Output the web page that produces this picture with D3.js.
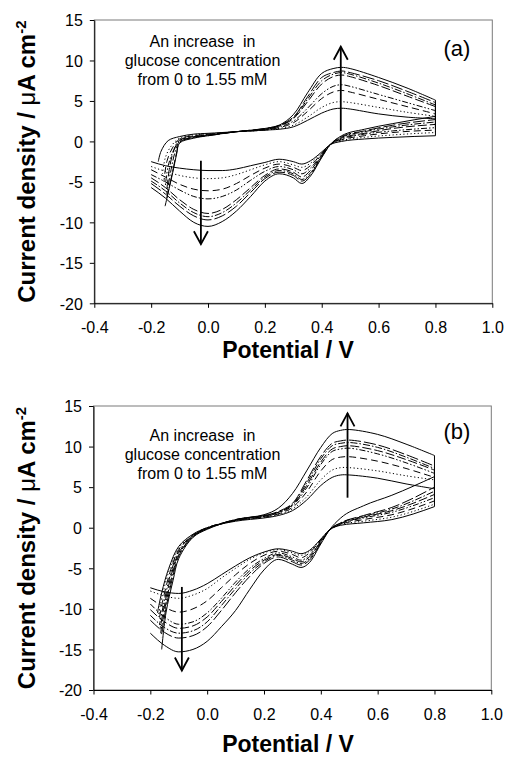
<!DOCTYPE html>
<html><head><meta charset="utf-8">
<script src="https://cdn.jsdelivr.net/npm/d3@7"></script>
<style>
body{margin:0;background:#fff}
svg{display:block}
text{font-family:"Liberation Sans",Arial,sans-serif;fill:#000}
</style>
</head><body>
<svg id="chart" width="505" height="760"></svg>
<script>
// ---------- data ----------
const xTicks = [-0.4, -0.2, 0.0, 0.2, 0.4, 0.6, 0.8, 1.0];
const yTicks = [15, 10, 5, 0, -5, -10, -15, -20];
const annotLines = ["An increase  in", "glucose concentration", "from 0 to 1.55 mM"];

// potentials of the forward (lower) branch and of the return (upper) branch
const lowerX = [-0.2, -0.15, -0.1, -0.05, 0.0, 0.05, 0.1, 0.15, 0.2, 0.25, 0.3, 0.33, 0.36, 0.4, 0.43, 0.47, 0.55, 0.65, 0.8];
const upperX = [0.8, 0.7, 0.6, 0.5, 0.47, 0.44, 0.4, 0.35, 0.3, 0.25, 0.2, 0.1, 0.0, -0.05, -0.1];

// panel (a) — 8 glucose concentrations
const aLower = [
  [-2.5, -3.0, -3.3, -3.5, -3.6, -3.6, -3.4, -3.0, -2.6, -2.2, -2.5, -2.8, -2.4, -1.3, -0.4, 0.0, 0.3, 0.5, 0.7],
  [-3.1, -3.7, -4.2, -4.5, -4.6, -4.5, -4.1, -3.5, -2.9, -2.5, -2.9, -3.2, -2.7, -1.4, -0.4, 0.1, 0.5, 0.8, 1.1],
  [-3.5, -4.4, -5.3, -5.9, -6.1, -5.9, -5.2, -4.2, -3.3, -2.8, -3.2, -3.6, -3.0, -1.5, -0.4, 0.2, 0.7, 1.1, 1.4],
  [-4.1, -5.0, -6.0, -6.8, -7.1, -6.8, -6.0, -4.8, -3.7, -3.1, -3.5, -4.0, -3.3, -1.6, -0.4, 0.3, 0.9, 1.3, 1.7],
  [-4.5, -5.7, -7.2, -8.4, -8.9, -8.4, -7.2, -5.7, -4.2, -3.4, -3.8, -4.4, -3.6, -1.7, -0.4, 0.4, 1.0, 1.6, 2.1],
  [-4.9, -6.1, -7.6, -8.8, -9.3, -8.8, -7.6, -6.0, -4.4, -3.6, -4.0, -4.7, -3.9, -1.8, -0.4, 0.5, 1.2, 1.8, 2.4],
  [-5.2, -6.5, -8.0, -9.2, -9.7, -9.2, -8.0, -6.3, -4.6, -3.8, -4.2, -4.9, -4.1, -1.9, -0.4, 0.6, 1.3, 2.0, 2.7],
  [-5.7, -7.0, -8.6, -10.0, -10.5, -9.9, -8.6, -6.8, -4.9, -4.0, -4.5, -5.2, -4.3, -2.0, -0.4, 0.7, 1.5, 2.2, 3.1]
];
const aUpper = [
  [2.8, 3.0, 3.4, 4.0, 4.1, 4.0, 3.5, 2.6, 1.8, 1.5, 1.4, 1.2, 1.0, 0.9, 0.6],
  [3.1, 3.6, 4.2, 4.8, 4.9, 4.8, 4.2, 3.0, 2.0, 1.6, 1.4, 1.2, 0.9, 0.8, 0.4],
  [3.4, 4.3, 5.2, 6.1, 6.3, 6.1, 5.3, 3.7, 2.3, 1.7, 1.4, 1.2, 0.9, 0.7, 0.3],
  [3.8, 4.8, 5.8, 6.8, 7.0, 6.8, 5.9, 4.1, 2.5, 1.8, 1.5, 1.2, 0.8, 0.6, 0.2],
  [4.3, 5.6, 6.9, 8.0, 8.2, 8.0, 7.1, 4.9, 2.8, 1.9, 1.5, 1.2, 0.8, 0.6, 0.1],
  [4.5, 5.9, 7.2, 8.3, 8.5, 8.3, 7.5, 5.2, 2.9, 1.9, 1.5, 1.2, 0.8, 0.5, 0.0],
  [4.8, 6.2, 7.5, 8.5, 8.7, 8.5, 7.9, 5.5, 3.0, 2.0, 1.6, 1.2, 0.7, 0.5, -0.1],
  [5.1, 6.6, 7.9, 9.0, 9.15, 9.0, 8.4, 6.0, 3.3, 2.0, 1.6, 1.2, 0.7, 0.4, -0.2]
];
const aTail = [
  [[-0.14, 0.1], [-0.165, -1.2], [-0.175, -2.5]],
  [[-0.13, -0.6], [-0.15, -2.0], [-0.16, -4.0]],
  [[-0.125, -0.8], [-0.145, -2.5], [-0.155, -5.0]],
  [[-0.12, -1.0], [-0.14, -3.0], [-0.15, -5.5]],
  [[-0.12, -1.1], [-0.135, -3.2], [-0.145, -6.0]],
  [[-0.115, -1.2], [-0.13, -3.5], [-0.145, -6.5]],
  [[-0.11, -1.3], [-0.125, -3.8], [-0.145, -7.0]],
  [[-0.11, -1.5], [-0.125, -4.0], [-0.151, -8.0]]
];
const aArrowX = [0.467, -0.025];
const aArrowFrom = [1.3, -2.4];
const aArrowTo = [11.7, -12.7];

// panel (b)
const bLower = [
  [-7.4, -7.9, -8.1, -7.7, -6.9, -5.8, -4.7, -3.7, -3.0, -2.6, -2.9, -3.2, -2.8, -1.4, -0.3, 0.3, 0.6, 1.0, 2.6],
  [-7.8, -8.4, -8.7, -8.3, -7.5, -6.2, -5.0, -3.9, -3.1, -2.7, -3.1, -3.4, -2.9, -1.4, -0.3, 0.4, 0.8, 1.3, 2.9],
  [-8.7, -9.8, -10.4, -10.0, -9.0, -7.4, -5.8, -4.4, -3.4, -2.9, -3.3, -3.7, -3.1, -1.5, -0.3, 0.4, 1.0, 1.6, 3.3],
  [-9.4, -11.0, -11.9, -11.6, -10.5, -8.7, -6.7, -5.0, -3.8, -3.1, -3.6, -4.0, -3.4, -1.6, -0.3, 0.5, 1.2, 1.9, 3.7],
  [-10.1, -11.6, -12.4, -12.1, -11.0, -9.1, -7.1, -5.3, -4.0, -3.3, -3.8, -4.2, -3.6, -1.7, -0.3, 0.5, 1.3, 2.1, 4.1],
  [-10.8, -12.3, -13.0, -12.7, -11.6, -9.6, -7.5, -5.6, -4.2, -3.4, -4.0, -4.4, -3.8, -1.8, -0.3, 0.6, 1.4, 2.3, 4.5],
  [-11.4, -12.9, -13.6, -13.3, -12.2, -10.2, -8.0, -6.0, -4.4, -3.6, -4.2, -4.6, -4.0, -1.9, -0.3, 0.6, 1.5, 2.5, 5.0],
  [-13.0, -14.5, -15.3, -15.0, -14.0, -12.2, -10.2, -7.6, -5.2, -3.9, -4.5, -4.9, -4.3, -2.0, -0.3, 1.2, 2.7, 4.0, 6.3]
];
const bUpper = [
  [4.8, 5.4, 6.1, 6.5, 6.5, 6.2, 5.2, 3.4, 2.1, 1.5, 1.2, 0.8, 0.0, -0.8, -2.3],
  [5.9, 6.4, 7.0, 7.4, 7.4, 7.1, 5.9, 3.8, 2.3, 1.6, 1.3, 0.9, 0.0, -0.9, -2.5],
  [6.2, 7.3, 8.2, 8.75, 8.7, 8.4, 7.0, 4.4, 2.5, 1.7, 1.3, 0.9, 0.0, -0.9, -2.7],
  [6.7, 8.0, 9.1, 9.8, 9.7, 9.4, 7.8, 4.9, 2.7, 1.8, 1.4, 0.9, 0.0, -1.0, -2.9],
  [7.1, 8.4, 9.5, 10.1, 10.0, 9.7, 8.1, 5.2, 2.8, 1.9, 1.4, 0.9, -0.1, -1.0, -3.1],
  [7.3, 8.7, 9.9, 10.5, 10.4, 10.1, 8.5, 5.5, 2.9, 1.9, 1.5, 1.0, -0.1, -1.1, -3.3],
  [7.6, 9.0, 10.2, 10.8, 10.7, 10.4, 8.8, 5.8, 3.0, 2.0, 1.5, 1.0, -0.1, -1.1, -3.5],
  [8.9, 10.3, 11.5, 12.1, 12.0, 11.6, 9.9, 7.0, 4.2, 2.4, 1.6, 1.0, -0.2, -1.2, -3.8]
];
const bTail = [
  [[-0.135, -5.0], [-0.16, -8.0], [-0.175, -10.5]],
  [[-0.133, -5.2], [-0.158, -8.4], [-0.172, -11.0]],
  [[-0.13, -5.4], [-0.155, -8.8], [-0.17, -11.5]],
  [[-0.128, -5.6], [-0.152, -9.2], [-0.168, -12.0]],
  [[-0.126, -5.8], [-0.15, -9.5], [-0.166, -12.5]],
  [[-0.124, -6.0], [-0.148, -9.8], [-0.164, -13.0]],
  [[-0.122, -6.2], [-0.146, -10.1], [-0.162, -13.5]],
  [[-0.12, -6.5], [-0.145, -10.5], [-0.16, -15.0]]
];
const bArrowX = [0.494, -0.089];
const bArrowFrom = [3.7, -7.3];
const bArrowTo = [14.1, -17.6];

// ---------- styles ----------
const dashes = ["", "1.2,2.4", "7,4", "6,2,1.5,2,1.5,2", "9,3", "7,2,1.5,2", "12,3", ""];

const svg = d3.select("#chart");

function panel(cfg) {
  const g = svg.append("g");
  const x = d3.scaleLinear().domain([-0.4, 1.0]).range([cfg.left, cfg.right]);
  const y = d3.scaleLinear().domain([-20, 15]).range([cfg.bottom, cfg.top]);

  // frame (top/right grey)
  g.append("rect")
    .attr("x", cfg.left).attr("y", cfg.top)
    .attr("width", cfg.right - cfg.left).attr("height", cfg.bottom - cfg.top)
    .attr("fill", "none").attr("stroke", "#7a7a7a").attr("stroke-width", 1);

  // curves
  const lowerGen = d3.line().x(d => x(d[0])).y(d => y(d[1])).curve(d3.curveMonotoneX);
  const upperGen = d3.line().x(d => x(d[0])).y(d => y(d[1])).curve(d3.curveCatmullRom.alpha(0.5));
  const curves = g.append("g").attr("fill", "none").attr("stroke", "#000").attr("stroke-width", 1);
  cfg.lower.forEach((lv, k) => {
    const lp = lowerX.map((xv, i) => [xv, lv[i]]);
    const up = upperX.map((xv, i) => [xv, cfg.upper[k][i]]).concat(cfg.tail[k]);
    const d = lowerGen(lp) + upperGen(up).replace(/^M/, "L");
    curves.append("path").attr("d", d)
      .attr("stroke-dasharray", dashes[k] || null);
  });

  // axes
  const xa = g.append("g").attr("transform", `translate(0,${cfg.bottom})`)
    .call(d3.axisBottom(x).tickValues(xTicks).tickFormat(d => d.toFixed(1))
      .tickSize(4.5).tickSizeOuter(0).tickPadding(14));
  const ya = g.append("g").attr("transform", `translate(${cfg.left},0)`)
    .call(d3.axisLeft(y).tickValues(yTicks).tickFormat(d => String(d))
      .tickSize(4.5).tickSizeOuter(0).tickPadding(7));
  [xa, ya].forEach(a => {
    a.selectAll("text").style("font-size", "16px").style("font-family", '"Liberation Sans",Arial,sans-serif').attr("fill", "#000");
    a.selectAll("line").attr("stroke", "#000");
    a.select(".domain").attr("stroke", "#000");
  });
  ya.selectAll("text").attr("dy", "0.36em");

  // arrows
  cfg.arrowX.forEach((ax, i) => {
    const px = x(ax), y0 = y(cfg.arrowFrom[i]), y1 = y(cfg.arrowTo[i]);
    const dir = y1 < y0 ? 1 : -1;
    const a = g.append("g").attr("stroke", "#000").attr("stroke-width", 1.8).attr("fill", "none");
    a.append("line").attr("x1", px).attr("x2", px).attr("y1", y0).attr("y2", y1);
    a.append("path").attr("d", `M${px - 7},${y1 + dir * 13}L${px},${y1}L${px + 7},${y1 + dir * 13}`);
  });

  // annotation
  const t = g.append("text").attr("text-anchor", "middle").style("font-size", "16px").style("white-space", "pre");
  annotLines.forEach((s, i) => {
    t.append("tspan").attr("x", 202.5).attr("y", cfg.annotY + i * 19).text(s);
  });
  g.append("text").attr("x", 457).attr("y", cfg.labelY).attr("text-anchor", "middle")
    .style("font-size", "22px").text(cfg.label);

  // axis titles
  g.append("text").attr("x", 288).attr("y", cfg.xTitleY)
    .attr("text-anchor", "middle").style("font-size", "23px").style("font-weight", "bold")
    .text("Potential / V");
  const yt = g.append("text")
    .attr("transform", `translate(35,${(cfg.top + cfg.bottom) / 2}) rotate(-90)`)
    .attr("text-anchor", "middle").style("font-size", "24px").style("font-weight", "bold");
  yt.append("tspan").text("Current density / ");
  yt.append("tspan").style("font-weight", "normal").text("\u03bc");
  yt.append("tspan").text("A cm");
  yt.append("tspan").attr("dy", "-9").style("font-size", "15px").text("-2");
}

panel({
  left: 94.3, right: 492.3, top: 20, bottom: 303.3,
  lower: aLower, upper: aUpper, tail: aTail,
  arrowX: aArrowX, arrowFrom: aArrowFrom, arrowTo: aArrowTo,
  annotY: 46.7, label: "(a)", labelY: 56, xTitleY: 358
});
panel({
  left: 93.5, right: 491.3, top: 406, bottom: 690,
  lower: bLower, upper: bUpper, tail: bTail,
  arrowX: bArrowX, arrowFrom: bArrowFrom, arrowTo: bArrowTo,
  annotY: 440.5, label: "(b)", labelY: 439, xTitleY: 752
});
</script>
</body></html>
